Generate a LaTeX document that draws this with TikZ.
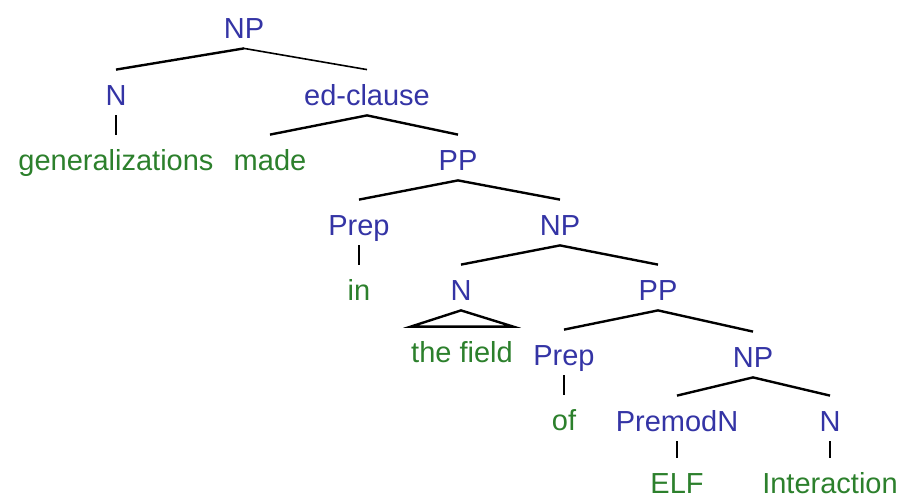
\documentclass[tikz,border=0pt]{standalone}
\usepackage{fontspec}
\setmainfont{Liberation Sans}
\usepackage{tikz}
\usetikzlibrary{positioning}
\usepackage{xcolor}
\definecolor{catblue}{RGB}{52,52,165}
\definecolor{wordgreen}{RGB}{44,128,44}

\begin{document}
\begin{tikzpicture}[x=0.5pt, y=-0.5pt,
                    every node/.style={font=\fontsize{14.5}{16}\selectfont, inner sep=0pt,
                      text height=17.75pt, text depth=4.75pt, anchor=base, yshift=-5.25pt},
                    cat/.style={text=catblue}, word/.style={text=wordgreen},
                    branch/.style={line width=1.2pt}, thinbranch/.style={line width=0.8pt}]

                    \useasboundingbox (0,0) rectangle (901,499);

                    \node[cat] (np0) at (244,28) {NP};
                    \node[cat] (n1) at (116,95) {N};
                    \node[cat] (edcl) at (367,95) {ed-clause};
                    \node[word] (gen) at (116,160) {generalizations};
                    \node[word] (made) at (270,160) {made};
                    \node[cat] (pp1) at (458,160) {PP};
                    \node[cat] (prep1) at (359,225) {Prep};
                    \node[cat] (np1) at (560,225) {NP};
                    \node[word] (in) at (359,290) {in};
                    \node[cat] (n2) at (461,290) {N};
                    \node[cat] (pp2) at (658,290) {PP};
                    \node[word] (field) at (462,352) {the field};
                    \node[cat] (prep2) at (564,355) {Prep};
                    \node[cat] (np2) at (753,357) {NP};
                    \node[word] (of) at (564,420) {of};
                    \node[cat] (premod) at (677,421) {PremodN};
                    \node[cat] (n3) at (830,421) {N};
                    \node[word] (elf) at (677,483) {ELF};
                    \node[word] (inter) at (830,483) {Interaction};

                    \draw[branch] (np0.south) -- (n1.north);
                    \draw[thinbranch] (np0.south) -- (edcl.north);
                    \draw[branch] (n1.south) -- (gen.north);
                    \draw[branch] (made.north) -- (edcl.south) -- (pp1.north);
                    \draw[branch] (prep1.north) -- (pp1.south) -- (np1.north);
                    \draw[branch] (prep1.south) -- (in.north);
                    \draw[branch] (n2.north) -- (np1.south) -- (pp2.north);
                    \draw[branch] (field.north west) -- (n2.south) -- (field.north east) -- cycle;
                    \draw[branch] (prep2.north) -- (pp2.south) -- (np2.north);
                    \draw[branch] (prep2.south) -- (of.north);
                    \draw[branch] (premod.north) -- (np2.south) -- (n3.north);
                    \draw[branch] (premod.south) -- (elf.north);
                    \draw[branch] (n3.south) -- (inter.north);
\end{tikzpicture}
\end{document}
